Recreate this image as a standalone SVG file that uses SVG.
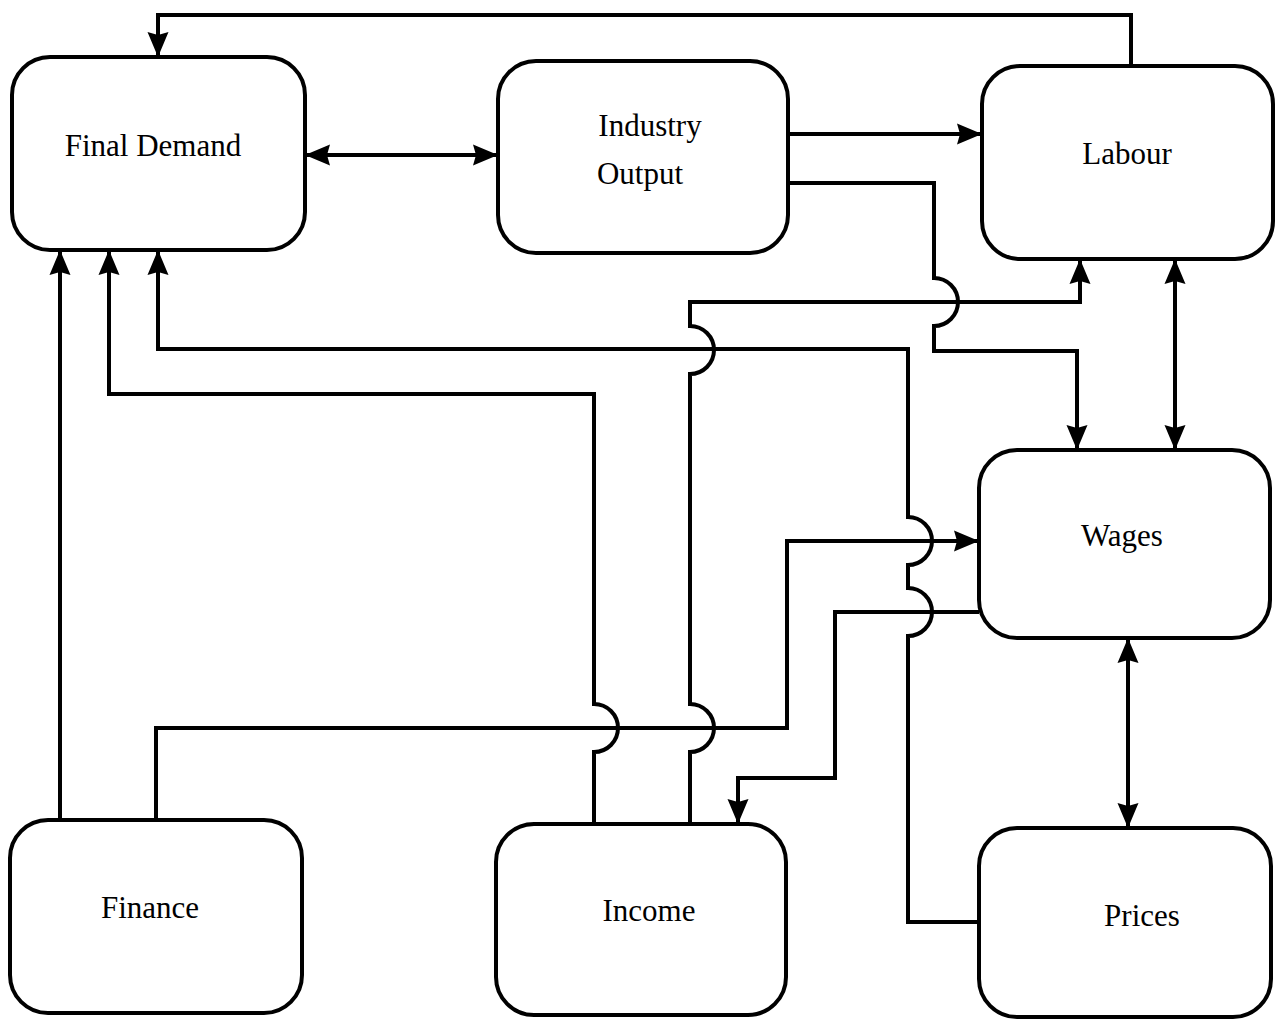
<svg xmlns="http://www.w3.org/2000/svg" width="1287" height="1022" viewBox="0 0 1287 1022">
  <style>
    .box { fill: #ffffff; stroke: #000000; stroke-width: 4; }
    .lbl { font-family: "Liberation Serif", "Times New Roman", serif; font-size: 31px; fill: #000000; text-anchor: middle; }
    .wire { fill: none; stroke: #000000; stroke-width: 4; }
  </style>
  <defs>
    <marker id="arrow" markerUnits="userSpaceOnUse" markerWidth="28" markerHeight="24" refX="25" refY="12" orient="auto-start-reverse">
      <path d="M0,1.5 L25,12 L0,22.5 L3,12 z" fill="#000000"/>
    </marker>
  </defs>
  <rect width="1287" height="1022" fill="#ffffff"/>

  <!-- connectors; vertical runs hop over crossing horizontals with half-circles -->
  <g id="connectors">
    <path class="wire" d="M1131,66 V15 H158 V57" marker-end="url(#arrow)"/>
    <path class="wire" d="M305,155 H498" marker-start="url(#arrow)" marker-end="url(#arrow)"/>
    <path class="wire" d="M788,134 H982" marker-end="url(#arrow)"/>
    <path class="wire" d="M788,183 H934 V278 A24,24 0 0 1 934,326 V351 H1077 V450" marker-end="url(#arrow)"/>
    <path class="wire" d="M1175,259 V450" marker-start="url(#arrow)" marker-end="url(#arrow)"/>
    <path class="wire" d="M690,824 V752 A24,24 0 0 0 690,704 V374 A24,24 0 0 0 690,326 V302 H1080 V259" marker-end="url(#arrow)"/>
    <path class="wire" d="M594,824 V752 A24,24 0 0 0 594,704 V394 H109 V250" marker-end="url(#arrow)"/>
    <path class="wire" d="M979,922 H908 V636 A24,24 0 0 0 908,588 V565 A24,24 0 0 0 908,517 V349 H158 V250" marker-end="url(#arrow)"/>
    <path class="wire" d="M60,820 V250" marker-end="url(#arrow)"/>
    <path class="wire" d="M156,820 V728 H787 V541 H979" marker-end="url(#arrow)"/>
    <path class="wire" d="M979,612 H835 V778 H738 V824" marker-end="url(#arrow)"/>
    <path class="wire" d="M1128,638 V828" marker-start="url(#arrow)" marker-end="url(#arrow)"/>
  </g>

  <g id="final-demand">
    <rect class="box" x="12" y="57" width="293" height="193" rx="38"/>
    <text class="lbl" x="153" y="156">Final Demand</text>
  </g>
  <g id="industry-output">
    <rect class="box" x="498" y="61" width="290" height="192" rx="38"/>
    <text class="lbl" x="650" y="136">Industry</text>
    <text class="lbl" x="640" y="184">Output</text>
  </g>
  <g id="labour">
    <rect class="box" x="982" y="66" width="291" height="193" rx="38"/>
    <text class="lbl" x="1127" y="164">Labour</text>
  </g>
  <g id="wages">
    <rect class="box" x="979" y="450" width="291" height="188" rx="38"/>
    <text class="lbl" x="1122" y="546">Wages</text>
  </g>
  <g id="finance">
    <rect class="box" x="10" y="820" width="292" height="193" rx="38"/>
    <text class="lbl" x="150" y="918">Finance</text>
  </g>
  <g id="income">
    <rect class="box" x="496" y="824" width="290" height="191" rx="38"/>
    <text class="lbl" x="649" y="921">Income</text>
  </g>
  <g id="prices">
    <rect class="box" x="979" y="828" width="292" height="189" rx="38"/>
    <text class="lbl" x="1142" y="926">Prices</text>
  </g>
</svg>
